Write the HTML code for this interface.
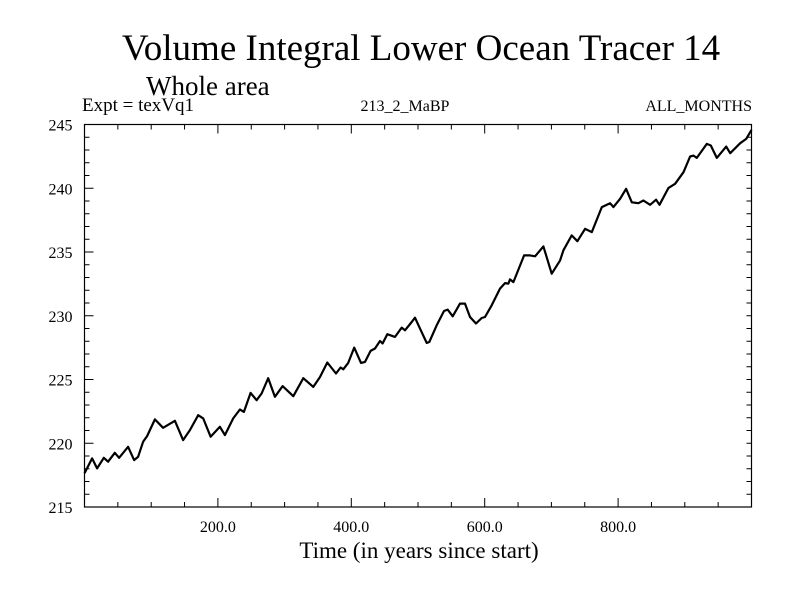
<!DOCTYPE html>
<html><head><meta charset="utf-8"><style>
html,body{margin:0;padding:0;background:#fff;}
svg{display:block;font-family:"Liberation Serif",serif;}
</style></head><body>
<svg id="chart" width="800" height="600" xmlns="http://www.w3.org/2000/svg">
<rect width="800" height="600" fill="#fff"/>
<text x="421" y="60" font-size="37" text-anchor="middle">Volume Integral Lower Ocean Tracer 14</text>
<text x="146" y="95" font-size="27">Whole area</text>
<text x="82" y="111" font-size="19">Expt = texVq1</text>
<text x="405" y="111" font-size="16" text-anchor="middle">213_2_MaBP</text>
<text x="752" y="111" font-size="16" text-anchor="end">ALL_MONTHS</text>
<text x="419" y="558" font-size="23" text-anchor="middle">Time (in years since start)</text>
<g id="axes"></g>
<g id="series"></g>
</svg>
<script>
const years=[0,11.4,18.9,29,35.4,45.5,51.9,65.4,74.4,80.4,87.9,93.9,105.5,117.9,135.5,147.9,158,170.4,177.9,189,203,210.5,222.9,233,239,249,258,265.5,275.4,285.5,297,313,328,343,353,364,377,384,388,395.4,404.4,414.5,420.5,429,435.5,443,447,454,465.5,475.5,480.5,490.5,495.5,503,513,517,528,539,544.5,552,563,570.5,578,587,595.5,600.5,610.5,623,630.5,635.5,638,643,659,668,675.5,688,700.5,713,718,730.5,739,750.5,760.5,775.5,788,793,803,812,820.5,830.5,838,848,857,862,875.5,885.5,898,908,913,918,933,939,948,962,968,983,992,1000];
const values=[217.64,218.81,218.03,218.86,218.55,219.25,218.86,219.72,218.68,218.94,220.11,220.56,221.87,221.21,221.76,220.25,221.03,222.2,221.95,220.51,221.29,220.64,221.95,222.65,222.46,223.95,223.38,223.9,225.1,223.64,224.48,223.69,225.1,224.42,225.2,226.33,225.47,225.94,225.8,226.3,227.5,226.3,226.38,227.24,227.43,228.02,227.82,228.55,228.34,229.07,228.86,229.51,229.85,228.99,227.87,227.94,229.25,230.37,230.48,229.96,230.95,230.95,229.9,229.39,229.82,229.9,230.82,232.13,232.56,232.52,232.85,232.64,234.73,234.73,234.66,235.44,233.3,234.34,235.13,236.3,235.85,236.82,236.56,238.52,238.83,238.52,239.17,239.96,238.9,238.83,239.04,238.7,239.1,238.7,240.03,240.35,241.26,242.49,242.56,242.38,243.48,243.35,242.38,243.27,242.75,243.53,243.87,244.58];
const xTicks=[200,400,600,800];
const xTickLabels=["200.0","400.0","600.0","800.0"];
const yTicks=[215,220,225,230,235,240,245];
const yTickLabels=["215","220","225","230","235","240","245"];
const X0=84.5,X1=751.5,Y0=507,Y1=124.5;
const xMin=0,xMax=1000,yMin=215,yMax=245;
function sx(v){return X0+(v-xMin)/(xMax-xMin)*(X1-X0);}
function sy(v){return Y0-(v-yMin)/(yMax-yMin)*(Y0-Y1);}
const NS="http://www.w3.org/2000/svg";
const axes=document.getElementById('axes');
function line(x1,y1,x2,y2,name){const l=document.createElementNS(NS,'line');l.setAttribute('x1',x1);l.setAttribute('y1',y1);l.setAttribute('x2',x2);l.setAttribute('y2',y2);l.setAttribute('stroke','#000');l.setAttribute('stroke-width','1');


axes.appendChild(l);}
const frame=document.createElementNS(NS,'rect');
frame.setAttribute('x',X0);frame.setAttribute('y',Y1);frame.setAttribute('width',X1-X0);frame.setAttribute('height',Y0-Y1);frame.setAttribute('fill','none');frame.setAttribute('stroke','#000');frame.setAttribute('stroke-width','1.2');


axes.appendChild(frame);
for(let v=50;v<1000;v+=50){const x=sx(v);const L=(v%200===0)?9:5;line(x,Y0,x,Y0-L,'x-tick');line(x,Y1,x,Y1+L,'x-tick-top');}
for(let v=216;v<245;v++){const y=sy(v);const L=(v%5===0)?9:5;line(X0,y,X0+L,y,'y-tick');line(X1,y,X1-5,y,'y-tick-right');}
xTicks.forEach((v,i)=>{const t=document.createElementNS(NS,'text');t.setAttribute('x',sx(v));t.setAttribute('y',Y0+25);t.setAttribute('font-size','16');t.setAttribute('text-anchor','middle');t.textContent=xTickLabels[i];


axes.appendChild(t);});
yTicks.forEach((v,i)=>{const t=document.createElementNS(NS,'text');t.setAttribute('x',X0-12);t.setAttribute('y',sy(v)+6);t.setAttribute('font-size','16');t.setAttribute('text-anchor','end');t.textContent=yTickLabels[i];


axes.appendChild(t);});
const p=document.createElementNS(NS,'polyline');
p.setAttribute('points',years.map((y,i)=>sx(y).toFixed(1)+','+sy(values[i]).toFixed(1)).join(' '));
p.setAttribute('fill','none');p.setAttribute('stroke','#000');p.setAttribute('stroke-width','2.2');p.setAttribute('stroke-linejoin','round');


document.getElementById('series').appendChild(p);
</script>
</body></html>
